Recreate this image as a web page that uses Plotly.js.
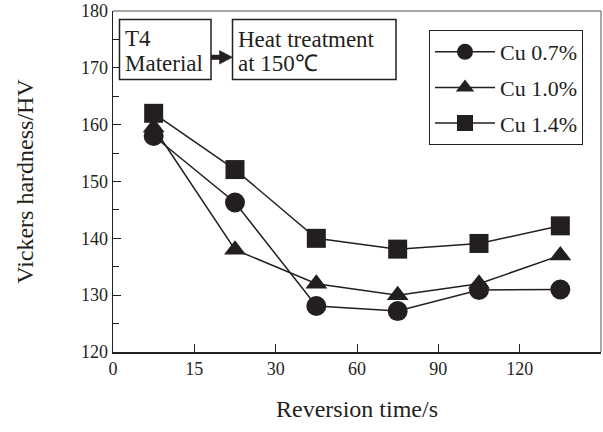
<!DOCTYPE html>
<html>
<head>
<meta charset="utf-8">
<script src="https://cdn.plot.ly/plotly-3.0.1.min.js"></script>
<style>html,body{margin:0;padding:0;background:#fff;}#chart{width:603px;height:432px;}</style>
</head>
<body>
<div id="chart"></div>
<script>
// ---- data ----
const reversionTimes = [7.5, 22.5, 45, 75, 105, 135];   // s (drawn at mid-interval of the axis)
const cu07 = [158.0, 146.3, 128.1, 127.2, 130.9, 131.0];
const cu10 = [159.5, 138.0, 132.0, 130.0, 132.0, 137.0];
const cu14 = [162.0, 152.1, 140.0, 138.1, 139.1, 142.2];
const seriesNames = ['Cu 0.7%', 'Cu 1.0%', 'Cu 1.4%'];
const xTickValues = [0, 15, 30, 60, 90, 120];
const xTickLabels = ['0', '15', '30', '60', '90', '120'];
const xAxisEnd = 150;

// axis is piecewise: 15 s per division up to 30 s, then 30 s per division
function timeToAxis(t) { return t <= 30 ? t / 15 : 2 + (t - 30) / 30; }

const ink = '#231f20';
const FONT = '"Liberation Serif", "Times New Roman", serif';

// pixel -> paper helpers for decorations
const L = 113, R = 2, T = 11, B = 80, W = 603, H = 432;
const pw = W - L - R, ph = H - T - B;
const px = p => (p - L) / pw;
const py = p => (H - B - p) / ph;

const xs = reversionTimes.map(timeToAxis);
const mk = (name, y, symbol, size, rank) => ({
  type: 'scatter', mode: 'lines+markers', name: name, x: xs, y: y,
  legendgroup: name, legendrank: rank,
  line: {color: ink, width: 1.5},
  marker: {symbol: symbol, size: size, color: ink, line: {width: 0}},
  cliponaxis: false
});

// triangle series drawn first so it sits underneath at the shared first point
const traces = [
  mk(seriesNames[1], cu10, 'triangle-up', 19, 2),
  mk(seriesNames[0], cu07, 'circle', 20, 1),
  mk(seriesNames[2], cu14, 'square', 19, 3)
];

const layout = {
  width: W, height: H,
  margin: {l: L, r: R, t: T, b: B},
  paper_bgcolor: '#fff', plot_bgcolor: '#fff',
  font: {family: FONT, color: ink, size: 18},
  showlegend: true,
  legend: {
    x: px(429), y: py(30), xanchor: 'left', yanchor: 'top',
    bgcolor: '#fff', bordercolor: ink, borderwidth: 1,
    font: {family: FONT, size: 22, color: ink},
    tracegroupgap: 4, itemwidth: 60, traceorder: 'grouped'
  },
  xaxis: {
    range: [0, timeToAxis(xAxisEnd)],
    tickmode: 'array', tickvals: xTickValues.map(timeToAxis), ticktext: xTickLabels,
    ticks: 'inside', ticklen: 8, tickwidth: 1, tickcolor: ink,
    showline: true, linecolor: ink, linewidth: 1.5,
    showgrid: false, zeroline: false,
    tickfont: {family: FONT, size: 18, color: ink},
    title: {text: 'Reversion time/s', font: {family: FONT, size: 24, color: ink}, standoff: 22}
  },
  yaxis: {
    range: [120, 180], dtick: 10, tick0: 120,
    ticks: 'inside', ticklen: 8, tickwidth: 1, tickcolor: ink,
    minor: {dtick: 5, ticks: 'inside', ticklen: 6, tickcolor: ink, tickwidth: 1},
    showline: true, linecolor: ink, linewidth: 1.5,
    showgrid: false, zeroline: false,
    tickfont: {family: FONT, size: 18, color: ink},
    title: {text: 'Vickers hardness/HV', font: {family: FONT, size: 24, color: ink}, standoff: 40}
  },
  shapes: [
    // top and right frame (grey)
    {type: 'line', xref: 'paper', yref: 'paper', x0: 0, x1: 1, y0: 1, y1: 1, line: {color: '#8a8a8a', width: 1.5}},
    {type: 'line', xref: 'paper', yref: 'paper', x0: 1, x1: 1, y0: 0, y1: 1, line: {color: '#8a8a8a', width: 1.5}},
    // process boxes
    {type: 'rect', xref: 'paper', yref: 'paper', x0: px(119.5), x1: px(211), y0: py(79.5), y1: py(19.5),
     line: {color: ink, width: 1.5}, fillcolor: '#fff'},
    {type: 'rect', xref: 'paper', yref: 'paper', x0: px(232.5), x1: px(396), y0: py(79.5), y1: py(19.5),
     line: {color: ink, width: 1.5}, fillcolor: '#fff'},
    // arrow shaft + head
    {type: 'line', xref: 'paper', yref: 'paper', x0: px(211), x1: px(222), y0: py(57.3), y1: py(57.3),
     line: {color: ink, width: 5}},
    {type: 'path', xref: 'paper', yref: 'paper',
     path: 'M' + px(219.5) + ',' + py(50.5) + ' L' + px(232.5) + ',' + py(57.3) + ' L' + px(219.5) + ',' + py(64.1) + ' Z',
     fillcolor: ink, line: {color: ink, width: 0.5}}
  ],
  annotations: [
    {xref: 'paper', yref: 'paper', x: px(123), y: py(38), xanchor: 'left', yanchor: 'middle', showarrow: false,
     text: 'T4', font: {family: FONT, size: 23, color: ink}},
    {xref: 'paper', yref: 'paper', x: px(123), y: py(64), xanchor: 'left', yanchor: 'middle', showarrow: false,
     text: 'Material', font: {family: FONT, size: 23, color: ink}},
    {xref: 'paper', yref: 'paper', x: px(236), y: py(39), xanchor: 'left', yanchor: 'middle', showarrow: false,
     text: 'Heat treatment', font: {family: FONT, size: 23, color: ink}},
    {xref: 'paper', yref: 'paper', x: px(236), y: py(64), xanchor: 'left', yanchor: 'middle', showarrow: false,
     text: 'at 150℃', font: {family: FONT, size: 23, color: ink}}
  ]
};

Plotly.newPlot('chart', traces, layout, {staticPlot: true, displayModeBar: false});
</script>
</body>
</html>
